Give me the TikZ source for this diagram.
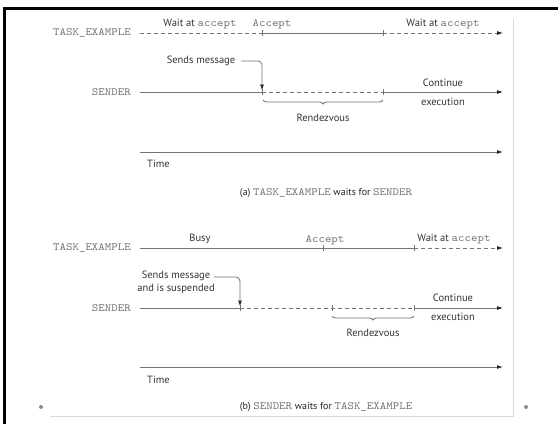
\documentclass[tikz,border=0pt]{standalone}
\usepackage{fontspec}
\setsansfont{PT Sans}
\newfontfamily\courfont[FakeStretch=1.12]{Latin Modern Mono}
\usetikzlibrary{arrows.meta,decorations.pathreplacing}
\definecolor{txt}{gray}{0.2}
\definecolor{mgray}{gray}{0.45}
\definecolor{lgray}{gray}{0.45}
\newcommand{\mtx}[1]{{\color{mgray}\courfont\fontsize{11}{12}\selectfont #1}}
\begin{document}
\begin{tikzpicture}[x=1pt,y=-1pt,
  lbl/.style={font=\sffamily\fontsize{10.5}{12}\selectfont, text=txt, inner sep=0pt},
  mono/.style={font=\courfont\fontsize{11}{12}\selectfont, text=mgray, inner sep=0pt},
  captxt/.style={font=\sffamily\fontsize{10}{11}\selectfont, text=black!85, inner sep=0pt},
  tl/.style={draw=lgray, line width=0.8pt},
  dsh/.style={tl, dash pattern=on 4pt off 3pt},
  arr/.style={-{Latex[length=6pt,width=4pt,color=black!85]}},
  rbrace/.style={tl, decorate, decoration={brace, mirror, amplitude=4pt}},
  tickmark/.style={tl}
]
\useasboundingbox (0,0) rectangle (558,424);
\fill[white] (0,0) rectangle (558,424);
% frame
\fill[black] (3.3,7) rectangle (558,9.8);
\fill[black] (3.3,7) rectangle (6.1,424);
\coordinate (fr1) at (513,19);
\coordinate (fr2) at (513,416);
\coordinate (fr3) at (50,416);
\draw[black!15, line width=1pt] (fr1) -- (fr2) -- (fr3);
\fill[black!45] (41,407) circle (2);
\fill[black!45] (526,407) circle (2);

% ---------- part (a) ----------
\node[mono, anchor=east] (tlA) at (131,33) {TASK\_EXAMPLE};
\coordinate (tA0) at (140,33);
\coordinate (tA1) at (262,33);
\coordinate (tA2) at (383,33);
\coordinate (tA3) at (503,33);
\draw[dsh] (tA0) -- (tA1);
\draw[tl] (tA1) -- (tA2);
\draw[dsh, arr] (tA2) -- (tA3);
\draw[tickmark] ([yshift=3pt]tA1) -- ([yshift=-3pt]tA1);
\draw[tickmark] ([yshift=3pt]tA2) -- ([yshift=-3pt]tA2);
\node[lbl] (wA1) at (200,24) {Wait at \mtx{accept}};
\node[mono] (acA) at (272,24) {Accept};
\node[lbl] (wA2) at (443,24) {Wait at \mtx{accept}};

\node[mono, anchor=east] (slA) at (131,92) {SENDER};
\coordinate (sA0) at (140,92);
\coordinate (sA1) at (262,92);
\coordinate (sA2) at (383,92);
\coordinate (sA3) at (503,92);
\draw[tl] (sA0) -- (sA1);
\draw[dsh] (sA1) -- (sA2);
\draw[tl, arr] (sA2) -- (sA3);
\draw[tickmark] ([yshift=3pt]sA1) -- ([yshift=-3pt]sA1);
\draw[tickmark] ([yshift=3pt]sA2) -- ([yshift=-3pt]sA2);
\node[lbl] (smA) at (201,61) {Sends message};
\coordinate (smAc) at (262,61);
\draw[tl, arr, rounded corners=4pt, shorten >=1.5pt] ([xshift=6pt]smA.east) -- (smAc) -- (sA1);
\coordinate (bA0) at (263,100);
\coordinate (bA1) at (383,100);
\draw[rbrace] (bA0) -- (bA1);
\node[lbl] (rzA) at (323,118) {Rendezvous};
\node[lbl] (coA) at (443,83) {Continue};
\node[lbl] (exA) at (443,102) {execution};

\coordinate (xA0) at (140,152);
\coordinate (xA1) at (503,152);
\draw[tl, line width=1pt, arr] (xA0) -- (xA1);
\node[lbl, anchor=west] (tmA) at (147,164) {Time};
\node[captxt] (cpA) at (326,193) {(a) \mtx{TASK\_EXAMPLE} waits for \mtx{SENDER}};

% ---------- part (b) ----------
\node[mono, anchor=east] (tlB) at (131,248) {TASK\_EXAMPLE};
\coordinate (tB0) at (140,248);
\coordinate (tB1) at (323,248);
\coordinate (tB2) at (414,248);
\coordinate (tB3) at (503,248);
\draw[tl] (tB0) -- (tB2);
\draw[dsh, arr] (tB2) -- (tB3);
\draw[tickmark] ([yshift=3pt]tB1) -- ([yshift=-3pt]tB1);
\draw[tickmark] ([yshift=3pt]tB2) -- ([yshift=-3pt]tB2);
\node[lbl] (bsB) at (200,239) {Busy};
\node[mono] (acB) at (325,240) {Accept};
\node[lbl] (wB) at (454,239) {Wait at \mtx{accept}};

\node[mono, anchor=east] (slB) at (131,308) {SENDER};
\coordinate (sB0) at (140,308);
\coordinate (sB1) at (240,308);
\coordinate (sB2) at (332,308);
\coordinate (sB3) at (414,308);
\coordinate (sB4) at (503,308);
\draw[tl] (sB0) -- (sB1);
\draw[dsh] (sB1) -- (sB3);
\draw[tl, arr] (sB3) -- (sB4);
\draw[tickmark] ([yshift=3pt]sB1) -- ([yshift=-3pt]sB1);
\draw[tickmark] ([yshift=3pt]sB2) -- ([yshift=-3pt]sB2);
\draw[tickmark] ([yshift=3pt]sB3) -- ([yshift=-3pt]sB3);
\node[lbl, align=center, font=\sffamily\fontsize{10.5}{12.5}\selectfont] (smB) at (176,282.5) {Sends message\\and is suspended};
\coordinate (smBa) at (214,277);
\coordinate (smBc) at (240,277);
\draw[tl, arr, rounded corners=4pt, shorten >=1.5pt] (smBa) -- (smBc) -- (sB1);
\coordinate (bB0) at (332,316);
\coordinate (bB1) at (414,316);
\draw[rbrace] (bB0) -- (bB1);
\node[lbl] (rzB) at (373,333) {Rendezvous};
\node[lbl] (coB) at (453,298) {Continue};
\node[lbl] (exB) at (453,317) {execution};

\coordinate (xB0) at (140,367);
\coordinate (xB1) at (503,367);
\draw[tl, line width=1pt, arr] (xB0) -- (xB1);
\node[lbl, anchor=west] (tmB) at (147,380) {Time};
\node[captxt] (cpB) at (326,407) {(b) \mtx{SENDER} waits for \mtx{TASK\_EXAMPLE}};
\end{tikzpicture}
\end{document}
